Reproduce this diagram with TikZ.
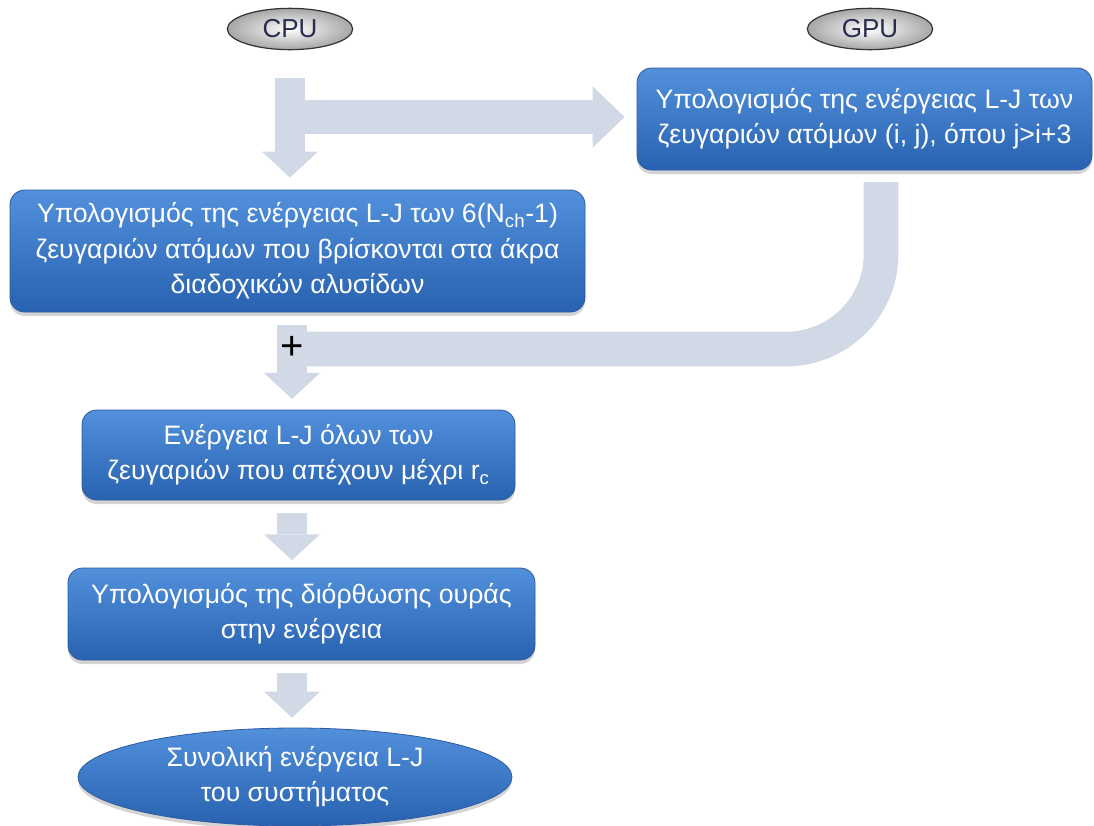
\documentclass[tikz,border=0pt]{standalone}
\usepackage{fontspec}
\setmainfont{Liberation Sans}
\usetikzlibrary{arrows.meta,shadows,shapes.geometric}
\definecolor{arrowfill}{RGB}{209,216,230}
\definecolor{boxtop}{RGB}{82,144,220}
\definecolor{boxbot}{RGB}{40,98,176}
\definecolor{boxedge}{RGB}{46,90,160}
\definecolor{pilltext}{RGB}{40,45,75}
\begin{document}
\begin{tikzpicture}[x=0.75pt,y=-0.75pt,
  bluebox/.style={rectangle, rounded corners=11pt, top color=boxtop, bottom color=boxbot,
    draw=boxedge, line width=0.6pt, text=white, align=center,
    font=\fontsize{20}{26.5}\selectfont, inner sep=0pt,
    drop shadow={opacity=0.35, shadow xshift=0pt, shadow yshift=-3pt}},
  blueoval/.style={bluebox, ellipse, rounded corners=0pt},
  pill/.style={ellipse, inner color=white, outer color=gray!70, draw=black!80,
    line width=0.9pt, minimum width=94pt, minimum height=31pt, inner sep=0pt,
    text=pilltext, font=\fontsize{19.5}{19.5}\selectfont},
  vblock/.style={draw=arrowfill, line width=22.5pt,
    -{Triangle[width=42pt,length=19.5pt,line width=0pt]}},
  hblock/.style={draw=arrowfill, line width=25.5pt,
    -{Triangle[width=46pt,length=24pt,line width=0pt]}},
  band/.style={draw=arrowfill, line width=26pt, rounded corners=71pt}
]
\useasboundingbox (0,0) rectangle (1094,825);

% nodes
\node[pill] (cpulabel) at (290,29) {CPU};
\node[pill] (gpulabel) at (870,29) {GPU};

\node[bluebox, minimum width=341.25pt, minimum height=76.5pt] (gpubox) at (864.5,119)
  {Υπολογισμός της ενέργειας L-J των\\ζευγαριών ατόμων (i, j), όπου j>i+3};

\node[bluebox, minimum width=431.25pt, minimum height=91.5pt] (box1) at (297.5,251)
  {Υπολογισμός της ενέργειας L-J των 6(N\textsubscript{ch}-1)\\ζευγαριών ατόμων που βρίσκονται στα άκρα\\διαδοχικών αλυσίδων};

\node[bluebox, minimum width=324.75pt, minimum height=67.5pt] (box2) at (298.5,455)
  {Ενέργεια L-J όλων των\\ζευγαριών που απέχουν μέχρι r\textsubscript{c}};

\node[bluebox, minimum width=350.25pt, minimum height=69pt] (box3) at (301.5,614)
  {Υπολογισμός της διόρθωσης ουράς\\στην ενέργεια};

\node[blueoval, minimum width=325.5pt, minimum height=73.5pt] (final) at (295,777)
  {Συνολική ενέργεια L-J\\του συστήματος};

% connectors
\coordinate (c1) at (290,78);
\coordinate (h1) at (290,117);
\draw[hblock, shorten >=9pt] (h1) -- (h1 -| gpubox.west);
\draw[vblock, shorten >=9pt] (c1) -- (c1 |- box1.north);

\coordinate (g1) at (881,182);
\coordinate (g2) at (881,349);
\coordinate (p1) at (292,349);
\draw[band] (g1) -- (g2) -- (p1);

\coordinate (p0) at (292,325);
\draw[vblock, shorten >=8pt] (p0) -- (p0 |- box2.north);
\node[font=\fontsize{30}{30}\selectfont, inner sep=0pt] (plus) at (292,348) {+};

\coordinate (a2) at (292,513);
\draw[vblock, shorten >=5.5pt] (a2) -- (a2 |- box3.north);

\coordinate (a3) at (292,673);
\draw[vblock, shorten >=7.5pt] (a3) -- (a3 |- final.north);
\end{tikzpicture}
\end{document}
